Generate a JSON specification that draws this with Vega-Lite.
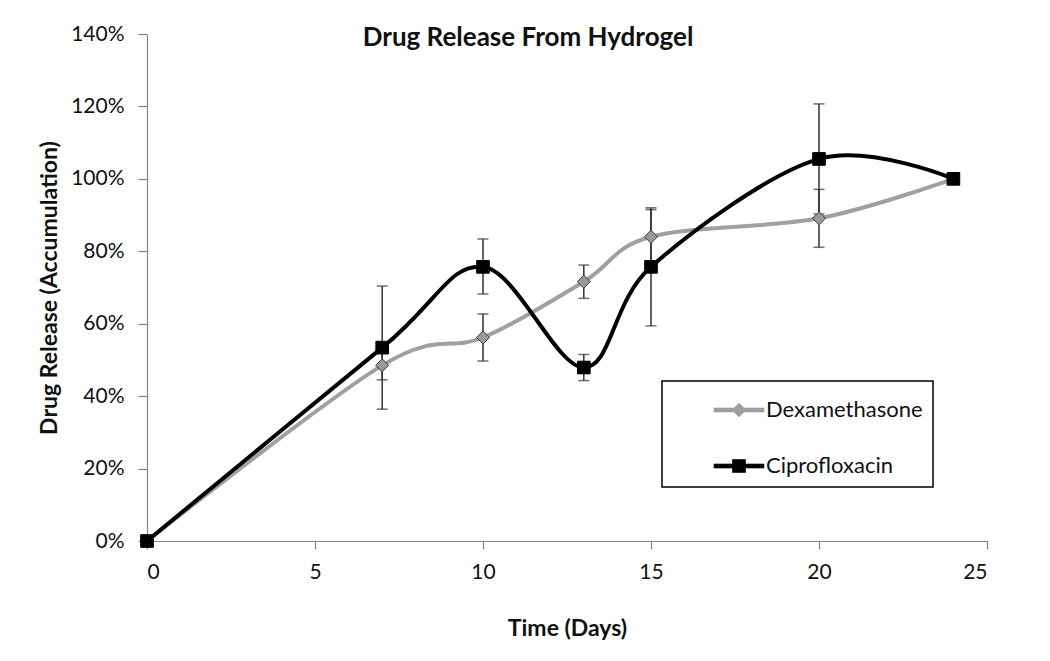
{
  "$schema": "https://vega.github.io/schema/vega-lite/v6.json",
  "width": 840,
  "height": 507,
  "autosize": {"type": "none"},
  "padding": {"left": 147, "top": 34, "right": 63, "bottom": 120},
  "background": "white",
  "config": {
    "view": {"stroke": null},
    "font": "Lato",
    "axis": {
      "grid": false,
      "domainColor": "#868686",
      "tickColor": "#868686",
      "domainWidth": 1.2,
      "tickWidth": 1.2,
      "labelFont": "Lato",
      "labelFontSize": 21,
      "labelColor": "#111",
      "titleFont": "Lato",
      "titleFontSize": 23,
      "titleFontWeight": "bold",
      "titleColor": "#111"
    }
  },
  "title": {
    "text": "Drug Release From Hydrogel",
    "font": "Lato",
    "fontSize": 26,
    "fontWeight": "bold",
    "color": "#111",
    "anchor": "middle",
    "frame": "group",
    "baseline": "alphabetic",
    "offset": -13,
    "dy": 36,
    "dx": -39
  },
  "data": {
    "values": [
      {"series": "Dexamethasone", "day": 0, "value": 0.0, "lo": null, "hi": null},
      {"series": "Dexamethasone", "day": 7, "value": 0.485, "lo": 0.445, "hi": 0.525},
      {"series": "Dexamethasone", "day": 10, "value": 0.562, "lo": 0.497, "hi": 0.627},
      {"series": "Dexamethasone", "day": 13, "value": 0.716, "lo": 0.67, "hi": 0.762},
      {"series": "Dexamethasone", "day": 15, "value": 0.84, "lo": 0.765, "hi": 0.915},
      {"series": "Dexamethasone", "day": 20, "value": 0.891, "lo": 0.811, "hi": 0.971},
      {"series": "Dexamethasone", "day": 24, "value": 1.0, "lo": null, "hi": null},
      {"series": "Ciprofloxacin", "day": 0, "value": 0.0, "lo": null, "hi": null},
      {"series": "Ciprofloxacin", "day": 7, "value": 0.534, "lo": 0.364, "hi": 0.704},
      {"series": "Ciprofloxacin", "day": 10, "value": 0.757, "lo": 0.682, "hi": 0.834},
      {"series": "Ciprofloxacin", "day": 13, "value": 0.479, "lo": 0.443, "hi": 0.515},
      {"series": "Ciprofloxacin", "day": 15, "value": 0.757, "lo": 0.594, "hi": 0.92},
      {"series": "Ciprofloxacin", "day": 20, "value": 1.055, "lo": 0.903, "hi": 1.207},
      {"series": "Ciprofloxacin", "day": 24, "value": 1.0, "lo": null, "hi": null}
    ]
  },
  "layer": [
    {
      "mark": {"type": "line", "interpolate": "cardinal", "strokeWidth": 4},
      "encoding": {
        "x": {
          "field": "day", "type": "quantitative",
          "scale": {"domain": [0, 25], "nice": false},
          "axis": {"values": [0, 5, 10, 15, 20, 25], "tickSize": 8, "labelPadding": 12, "title": "Time (Days)", "titlePadding": 35}
        },
        "y": {
          "field": "value", "type": "quantitative",
          "scale": {"domain": [0, 1.4], "nice": false},
          "axis": {"values": [0, 0.2, 0.4, 0.6, 0.8, 1.0, 1.2, 1.4], "format": ".0%", "tickSize": 9, "labelPadding": 14, "title": "Drug Release (Accumulation)", "titlePadding": 9}
        },
        "color": {
          "field": "series", "type": "nominal",
          "scale": {"domain": ["Dexamethasone", "Ciprofloxacin"], "range": ["#a0a0a0", "#000000"]},
          "legend": {
            "orient": "none",
            "legendX": 515,
            "legendY": 347,
            "title": " ",
            "titleFontSize": 6,
            "titlePadding": 2,
            "padding": 10,
            "strokeColor": "#000000",
            "fillColor": "#ffffff",
            "labelFont": "Lato",
            "labelFontSize": 22,
            "labelColor": "#111",
            "symbolSize": 400,
            "symbolOffset": 56,
            "labelOffset": 16,
            "rowPadding": 34,
            "encode": {
              "legend": {"update": {"strokeWidth": {"value": 1.5}}},
              "symbols": {
                "update": {
                  "shape": {"signal": "datum.value === 'Dexamethasone' ? 'M-2.5,-0.2H-0.5L0,-0.7L0.5,-0.2H2.5V0.2H0.5L0,0.7L-0.5,0.2H-2.5Z' : 'M-2.5,-0.2H-0.65V-0.65H0.65V-0.2H2.5V0.2H0.65V0.65H-0.65V0.2H-2.5Z'"},
                  "size": {"value": 400},
                  "fill": {"signal": "datum.value === 'Dexamethasone' ? '#a0a0a0' : '#000000'"},
                  "stroke": {"signal": "datum.value === 'Dexamethasone' ? '#808080' : '#000000'"},
                  "strokeWidth": {"value": 0.6},
                  "opacity": {"value": 1},
                  "fillOpacity": {"value": 1}
                }
              }
            }
          }
        }
      }
    },
    {
      "transform": [{"filter": "datum.lo != null"}],
      "mark": {"type": "rule", "color": "#333333", "strokeWidth": 1.5},
      "encoding": {
        "x": {"field": "day", "type": "quantitative"},
        "y": {"field": "lo", "type": "quantitative"},
        "y2": {"field": "hi"}
      }
    },
    {
      "transform": [{"filter": "datum.lo != null"}],
      "mark": {"type": "tick", "orient": "horizontal", "color": "#333333", "size": 11, "thickness": 1.5},
      "encoding": {
        "x": {"field": "day", "type": "quantitative"},
        "y": {"field": "lo", "type": "quantitative"}
      }
    },
    {
      "transform": [{"filter": "datum.lo != null"}],
      "mark": {"type": "tick", "orient": "horizontal", "color": "#333333", "size": 11, "thickness": 1.5},
      "encoding": {
        "x": {"field": "day", "type": "quantitative"},
        "y": {"field": "hi", "type": "quantitative"}
      }
    },
    {
      "transform": [{"filter": "datum.series === 'Dexamethasone'"}],
      "mark": {"type": "point", "shape": "diamond", "filled": true, "size": 170, "fill": "#999999", "stroke": "#404040", "strokeWidth": 1, "opacity": 1},
      "encoding": {
        "x": {"field": "day", "type": "quantitative"},
        "y": {"field": "value", "type": "quantitative"}
      }
    },
    {
      "transform": [{"filter": "datum.series === 'Ciprofloxacin'"}],
      "mark": {"type": "point", "shape": "square", "filled": true, "size": 160, "fill": "#000000", "stroke": "#000000", "strokeWidth": 1, "opacity": 1},
      "encoding": {
        "x": {"field": "day", "type": "quantitative"},
        "y": {"field": "value", "type": "quantitative"}
      }
    }
  ]
}
